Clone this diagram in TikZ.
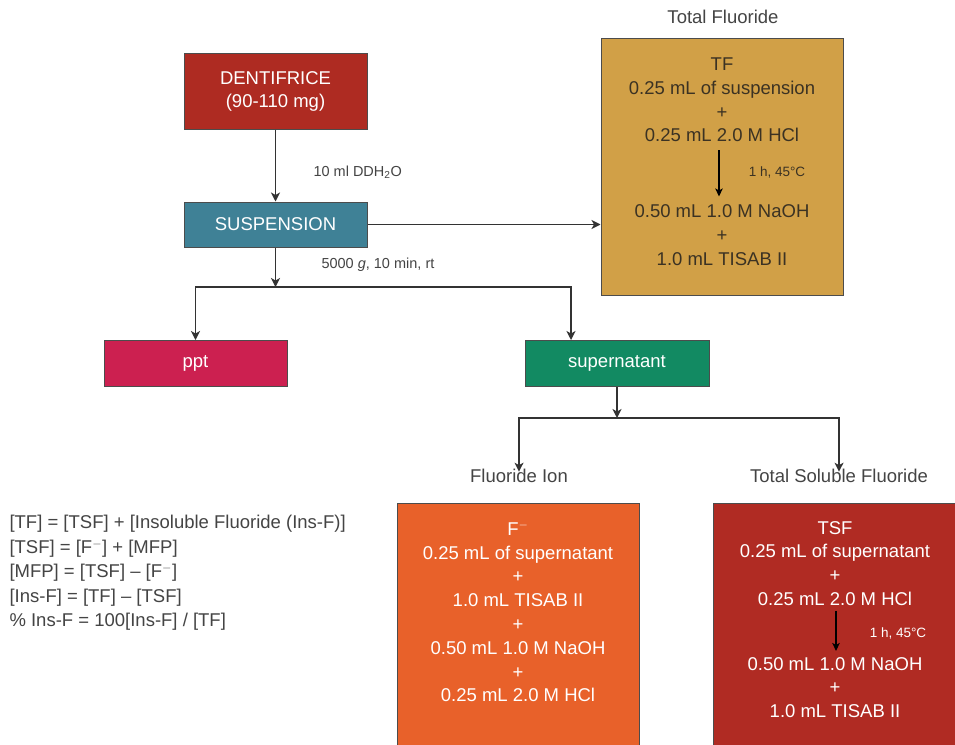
\documentclass[tikz,border=0pt]{standalone}
\usepackage{fontspec}
\setmainfont{Liberation Sans}
\usepackage{xcolor}
\usetikzlibrary{arrows.meta, positioning}

\definecolor{dentred}{HTML}{AE2B22}
\definecolor{suspteal}{HTML}{3F8196}
\definecolor{tfgold}{HTML}{D1A047}
\definecolor{pptred}{HTML}{CC2050}
\definecolor{supgreen}{HTML}{128A62}
\definecolor{fionorange}{HTML}{E8612A}
\definecolor{tsfred}{HTML}{B02B23}
\definecolor{tftext}{HTML}{3B3223}
\definecolor{labelgray}{HTML}{444444}

\tikzset{
  box/.style={draw=black!70, line width=1pt, text=white, align=center,
              minimum width=183pt, minimum height=46pt, inner sep=0pt,
              font=\fontsize{18.5}{23}\selectfont},
  bigbox/.style={draw=black!70, line width=1pt, minimum width=242pt, inner sep=0pt},
  inbox/.style={align=center, inner sep=1pt, font=\fontsize{18.5}{23.8}\selectfont},
  tag/.style={text=labelgray, font=\fontsize{18.5}{22}\selectfont},
  cond/.style={text=labelgray, font=\fontsize{14.5}{17}\selectfont},
  smallcond/.style={font=\fontsize{13.5}{16}\selectfont},
  conn/.style={draw=black!80, line width=1.2pt,
               -{Stealth[length=9pt,width=9pt,inset=2.5pt]}},
  stepconn/.style={draw=black, line width=1.1pt,
               -{Stealth[length=8pt,width=7.5pt,inset=2pt]}},
}

\begin{document}
\begin{tikzpicture}[x=1pt, y=-1pt]
\useasboundingbox (0,0) rectangle (955,744);
\fill[white] (0,0) rectangle (955,744);

% main column
\node[box, fill=dentred, minimum height=76pt] (dent) at (275.5,91)
  {DENTIFRICE\\(90-110 mg)};
\node[box, fill=suspteal, minimum height=45pt] (susp) at (275.5,224.5) {SUSPENSION};
\node[box, fill=pptred] (ppt) at (195.5,363.5) {ppt};
\node[box, fill=supgreen, minimum width=184pt] (super) at (617,363.5) {supernatant};

\draw[conn] (dent) -- (susp);
\node[cond, anchor=west] (water) at (310,172) {10 ml DDH\textsubscript{2}O};
\node[cond, anchor=west] (spin) at (318,265) {5000 \textit{g}, 10 min, rt};

\coordinate (split) at (275.5,287);
\draw[conn] (susp) -- (split);
\draw[conn] (split) -| (ppt.north);
\draw[conn] (split) -| ([xshift=-46pt]super.north);

% total fluoride
\node[tag] (tftag) at (723,17) {Total Fluoride};
\node[bigbox, fill=tfgold, minimum height=257pt] (tfbox) at (722,166.5) {};
\node[inbox, text=tftext] (tfa) at (722,100)
  {TF\\0.25 mL of suspension\\+\\0.25 mL 2.0 M HCl};
\node[inbox, text=tftext] (tfb) at (722,235)
  {0.50 mL 1.0 M NaOH\\+\\1.0 mL TISAB II};
\draw[stepconn, shorten <=7pt, shorten >=7pt]
  ([xshift=-3pt]tfa.south) -- ([xshift=-3pt]tfb.north);
\node[smallcond, text=tftext] (tfheat) at (777,172) {1 h, 45°C};
\draw[conn] (susp.east) -- (susp.east -| tfbox.west);

% soluble branches
\coordinate (split2) at (617,418);
\draw[conn] (super) -- (split2);
\node[tag] (fiontag) at (519,476) {Fluoride Ion};
\node[tag] (tsftag) at (839,476) {Total Soluble Fluoride};
\draw[conn] (split2) -| ([yshift=-6pt]fiontag.north);
\draw[conn] (split2) -| ([yshift=-6pt]tsftag.north);

\node[bigbox, fill=fionorange, minimum height=260pt] (fionbox) at (518,633) {};
\node[inbox, text=white] (fiona) at (518,612)
  {F$^{-}$\\0.25 mL of supernatant\\+\\1.0 mL TISAB II\\+\\0.50 mL 1.0 M NaOH\\+\\0.25 mL 2.0 M HCl};

\node[bigbox, fill=tsfred, minimum height=260pt] (tsfbox) at (834,633) {};
\node[inbox, text=white] (tsfa) at (835,563.5)
  {TSF\\0.25 mL of supernatant\\+\\0.25 mL 2.0 M HCl};
\node[inbox, text=white] (tsfb) at (835,687.5)
  {0.50 mL 1.0 M NaOH\\+\\1.0 mL TISAB II};
\draw[stepconn, shorten <=4pt, shorten >=5pt]
  ([xshift=1pt]tsfa.south) -- ([xshift=1pt]tsfb.north);
\node[smallcond, text=white] (tsfheat) at (898,633) {1 h, 45°C};

% relations
\node[tag, align=left, anchor=west, font=\fontsize{18.5}{24.5}\selectfont] (eqs) at (6,573)
  {{[TF]} = [TSF] + [Insoluble Fluoride (Ins-F)]\\
   {[TSF]} = [F$^{-}$] + [MFP]\\
   {[MFP]} = [TSF] \textendash{} [F$^{-}$]\\
   {[Ins-F]} = [TF] \textendash{} [TSF]\\
   \% Ins-F = 100[Ins-F] / [TF]};
\end{tikzpicture}
\end{document}
